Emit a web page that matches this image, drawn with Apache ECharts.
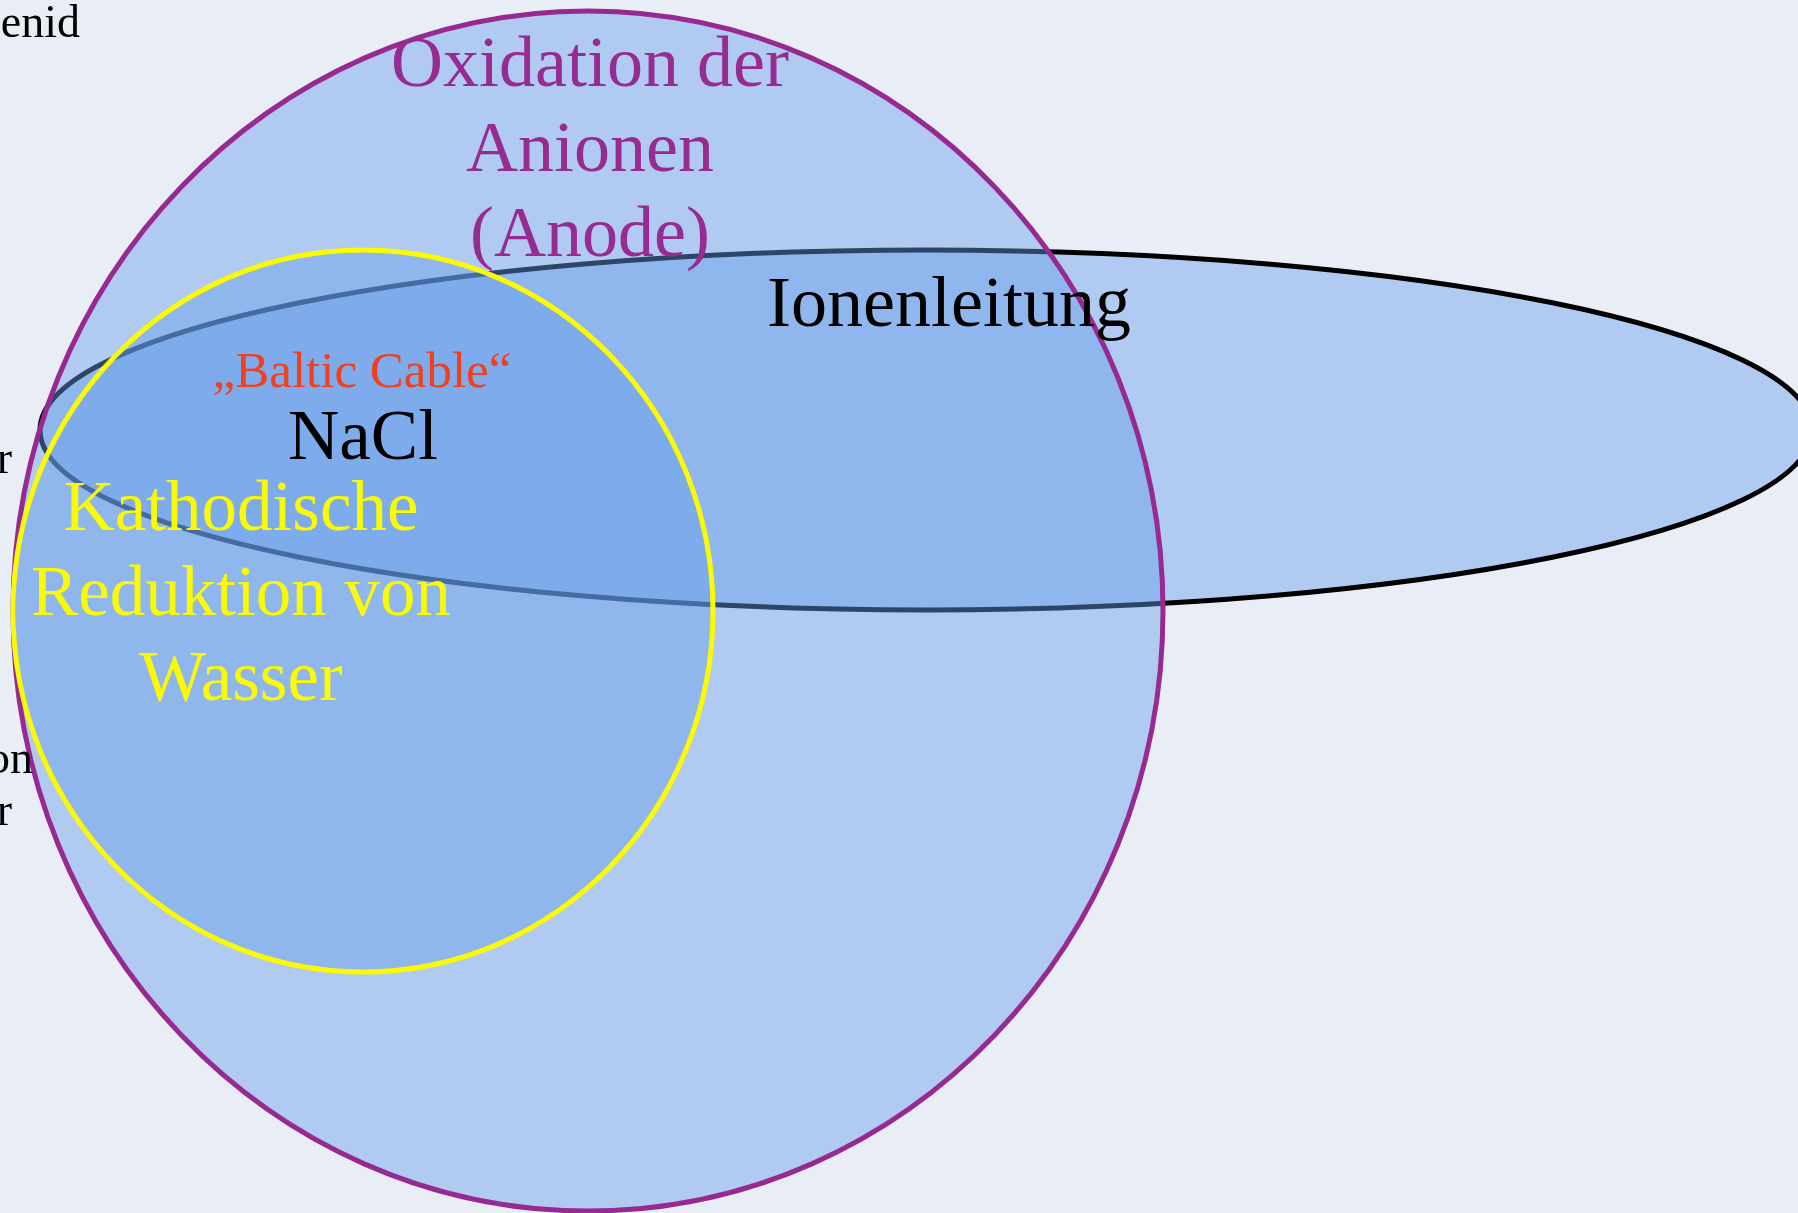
<!DOCTYPE html>
<html>
<head>
<meta charset="utf-8">
<title>Ionenleitung</title>
<script src="https://cdn.jsdelivr.net/npm/echarts@6/dist/echarts.min.js"></script>
<style>
  html, body { margin: 0; padding: 0; background: #e9eef6; }
  #chart { width: 1798px; height: 1213px; }
</style>
</head>
<body>
<div id="chart"></div>
<script>
// the three sets, bottom to top (centre and half-axes in slide units)
const setNames = ['Ionenleitung', 'Oxidation der Anionen (Anode)', 'Kathodische Reduktion von Wasser']
const centerX = [926, 588, 363]
const centerY = [430, 611, 611]
const radiusX = [886, 575, 350]
const radiusY = [180, 600, 361]

// texts placed in the diagram
const labelTexts = ['Oxidation der\nAnionen\n(Anode)', 'Ionenleitung', '„Baltic Cable“', 'NaCl', 'Kathodische\nReduktion von\nWasser']
const labelX = [590, 949, 362, 363, 241]
const labelY = [152, 307, 374, 440, 596]

// cut-off words at the left edge of the slide
const edgeTexts = ['enid', 'r', 'on', 'r']
const edgeX = [80, 12, 33, 12]
const edgeY = [25, 461, 761, 813]

const setStroke = ['#000000', '#962a91', '#fafa00']
const labelColor = ['#962b92', '#000000', '#f2401e', '#000000', '#fafa00']
const labelSize = [72, 72, 51, 71, 71]

const chart = echarts.init(document.getElementById('chart'))

const option = {
  backgroundColor: '#e9eef6',
  animation: false,
  grid: { left: 0, right: 0, top: 0, bottom: 0 },
  xAxis: { type: 'value', min: 0, max: 1798, show: false },
  yAxis: { type: 'value', min: 0, max: 1213, inverse: true, show: false },
  series: [
    {
      name: 'Mengen',
      type: 'custom',
      data: setNames.map((n, i) => ({ name: n, value: [centerX[i], centerY[i], radiusX[i], radiusY[i]] })),
      renderItem: (params, api) => {
        const c = api.coord([api.value(0), api.value(1)])
        const s = api.size([api.value(2), api.value(3)])
        return {
          type: 'ellipse',
          shape: { cx: c[0], cy: c[1], rx: s[0], ry: s[1] },
          style: {
            fill: 'rgba(103, 158, 235, 0.44)',
            stroke: setStroke[params.dataIndex],
            lineWidth: 5,
          },
        }
      },
    },
    {
      name: 'Beschriftung',
      type: 'custom',
      data: labelTexts.map((t, i) => ({ name: t, value: [labelX[i], labelY[i]] })),
      renderItem: (params, api) => {
        const c = api.coord([api.value(0), api.value(1)])
        const i = params.dataIndex
        return {
          type: 'text',
          x: c[0],
          y: c[1],
          style: {
            text: labelTexts[i],
            fill: labelColor[i],
            font: labelSize[i] + 'px "Liberation Serif", serif',
            lineHeight: 85,
            align: 'center',
            verticalAlign: 'middle',
          },
        }
      },
    },
    {
      name: 'Rand',
      type: 'custom',
      data: edgeTexts.map((t, i) => ({ name: t, value: [edgeX[i], edgeY[i]] })),
      renderItem: (params, api) => {
        const c = api.coord([api.value(0), api.value(1)])
        return {
          type: 'text',
          x: c[0],
          y: c[1],
          style: {
            text: edgeTexts[params.dataIndex],
            fill: '#000000',
            font: '46px "Liberation Serif", serif',
            align: 'right',
            verticalAlign: 'middle',
          },
        }
      },
    },
  ],
}

chart.setOption(option)

window.addEventListener('resize', () => {
  chart.resize()
})
</script>
</body>
</html>
